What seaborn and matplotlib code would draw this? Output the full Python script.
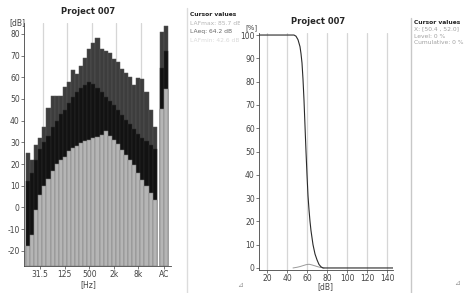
import numpy as np
import matplotlib
matplotlib.use("Agg")
import matplotlib.pyplot as plt
import seaborn as sns
from matplotlib.lines import Line2D

# ------------------------------
# data
# ------------------------------
bands = ["16", "20", "25", "31.5", "40", "50", "63", "80", "100", "125", "160",
         "200", "250", "315", "400", "500", "630", "800", "1k", "1.25k", "1.6k",
         "2k", "2.5k", "3.15k", "4k", "5k", "6.3k", "8k", "10k", "12.5k", "16k", "20k"]
lmax = [25, 22, 29, 32, 37, 46, 51.5, 51.5, 51.5, 55.6, 58, 63.4, 61.6, 65, 69, 73,
        76, 78, 73, 72, 71, 68.5, 67, 64, 62, 60, 56.5, 59.5, 59, 53, 45, 37]
leq = [12, 16, 22, 27, 30, 33, 37, 40, 43, 45, 48, 51, 53, 55, 56.5, 58,
       57, 55, 53, 51, 49, 47, 45, 42.5, 40.5, 38.5, 36, 34, 32, 30.5, 29, 27]
lmin = [-18, -12.6, -1, 5.6, 10, 13, 16.6, 20, 21.7, 23.2, 25.8, 27.5, 28.5, 29.8, 30.4, 31,
        32, 32.6, 33.5, 35, 33, 31, 29.3, 26.6, 24.3, 22, 19.7, 16, 12.8, 9.7, 6.7, 3.5]
ac_labels = ["A", "C"]
ac_max = [80.8, 83.5]
ac_eq = [64.2, 72]
ac_min = [45.5, 54.7]
tick_bands = ["31.5", "125", "500", "2k", "8k"]

cum_db = [12, 47, 49, 51, 53, 54, 55, 56, 57, 58, 59, 60, 61, 62, 63, 64, 66, 68, 70, 72, 74, 76, 146]
cum_pct = [100, 100, 99.5, 98, 95, 92, 88, 81, 72, 61, 50, 40, 31, 25, 20, 16, 10, 6, 3.5, 1.5, 0.5, 0, 0]
dist_db = [46, 50, 53, 56, 59, 62, 65, 68, 71, 74, 77]
dist_pct = [0, 0.3, 0.6, 1.0, 1.4, 1.6, 1.3, 0.9, 0.5, 0.2, 0]

W, H = 465, 293
FLOOR = -27


def px(x, y):
    return x / W, 1 - y / H


def main():
    sns.set_style("ticks")
    plt.rcParams["font.family"] = ["DejaVu Sans"]
    plt.rcParams["axes.unicode_minus"] = False
    plt.rcParams["axes.edgecolor"] = "#444444"
    plt.rcParams["xtick.color"] = "#444444"
    plt.rcParams["ytick.color"] = "#444444"

    fig = plt.figure(figsize=(W / 100, H / 100), dpi=100)
    fig.patch.set_facecolor("white")

    # ------------------------------
    # left: spectrum bars
    # ------------------------------
    ax1 = fig.add_axes([24 / W, (H - 266) / H, (171 - 24) / W, (266 - 23) / H])
    xb = np.arange(len(bands))
    xac = np.array([32.75, 33.73])
    layers = [(lmax, ac_max, "#3d3d3d", "#575757"),
              (leq, ac_eq, "#121212", "#2c2c2c"),
              (lmin, ac_min, "#b5b5b5", "#7a7a7a")]
    for vals, acv, col, edge in layers:
        ax1.bar(xb, np.array(vals) - FLOOR, bottom=FLOOR, width=1.0,
                color=col, edgecolor=edge, linewidth=0.35, zorder=2)
        ax1.bar(xac, np.array(acv) - FLOOR, bottom=FLOOR, width=0.98,
                color=col, edgecolor=edge, linewidth=0.35, zorder=2)
    ax1.set_xlim(-1, 35)
    ax1.set_ylim(FLOOR, 85)
    tpos = [bands.index(b) for b in tick_bands]
    ax1.set_xticks(tpos + [xac.mean()])
    ax1.set_xticklabels(tick_bands + ["".join(ac_labels)])
    ax1.set_xticks([p + 0.65 for p in tpos], minor=True)
    ax1.grid(which="minor", axis="x", color="#d6d6d6", linewidth=0.9, zorder=0)
    ax1.tick_params(which="minor", length=0)
    ax1.set_yticks(range(-20, 81, 10))
    ax1.tick_params(axis="both", labelsize=5.5, length=2, width=0.5, pad=1)
    sns.despine(ax=ax1)
    for s in ["left", "bottom"]:
        ax1.spines[s].set_linewidth(0.6)

    fig.text(*px(88, 12), "Project 007", ha="center", va="center", fontsize=6, weight="bold")
    fig.text(*px(17, 23), "[dB]", ha="center", va="center", fontsize=5.5, color="#444444")
    fig.text(*px(88, 285), "[Hz]", ha="center", va="center", fontsize=5.5, color="#444444")

    # ------------------------------
    # right: level distribution
    # ------------------------------
    ax2 = fig.add_axes([259 / W, (H - 270.3) / H, (393 - 259) / W, (270.3 - 32.7) / H])
    sns.lineplot(x=dist_db, y=dist_pct, ax=ax2, color="#9a9a9a", linewidth=0.7)
    sns.lineplot(x=cum_db, y=cum_pct, ax=ax2, color="#2a2a2a", linewidth=0.8)
    ax2.set_xlim(12, 146)
    ax2.set_ylim(-1, 101)
    ax2.set_xticks(range(20, 141, 20))
    ax2.set_yticks(range(0, 101, 10))
    ax2.grid(axis="x", color="#d6d6d6", linewidth=0.9, zorder=0)
    ax2.tick_params(axis="both", labelsize=5.5, length=2, width=0.5, pad=1)
    sns.despine(ax=ax2)
    for s in ["left", "bottom"]:
        ax2.spines[s].set_linewidth(0.6)

    fig.text(*px(318, 21), "Project 007", ha="center", va="center", fontsize=6, weight="bold")
    fig.text(*px(251, 27.5), "[%]", ha="center", va="center", fontsize=5, color="#444444")
    fig.text(*px(325, 287), "[dB]", ha="center", va="center", fontsize=5.5, color="#444444")

    # ------------------------------
    # cursor panels
    # ------------------------------
    pan1 = fig.add_axes([188 / W, 0, (240 - 188) / W, 1])
    pan1.set_axis_off()
    pan1.set_xlim(188, 240)
    pan1.set_ylim(H, 0)
    rows1 = [("Cursor values", 14, "#222222", "bold"),
             ("LAFmax: 85.7 dB", 23.5, "#b4b4b4", "normal"),
             ("LAeq: 64.2 dB", 31.5, "#666666", "normal"),
             ("LAFmin: 42.6 dB", 40, "#dadada", "normal")]
    for txt, y, col, wt in rows1:
        pan1.text(190, y, txt, ha="left", va="center", fontsize=4.3, color=col,
                  weight=wt, clip_on=True)
    pan1.text(240, 285, "\u22bf", ha="center", va="center", fontsize=5,
              color="#999999", clip_on=False)

    pan2 = fig.add_axes([412 / W, 0, (465 - 412) / W, 1])
    pan2.set_axis_off()
    pan2.set_xlim(412, 465)
    pan2.set_ylim(H, 0)
    rows2 = [("Cursor values", 22, "#222222", "bold"),
             ("X: [50.4 , 52.0]", 29, "#a0a0a0", "normal"),
             ("Level: 0 %", 36, "#a0a0a0", "normal"),
             ("Cumulative: 0 %", 43, "#a0a0a0", "normal")]
    for txt, y, col, wt in rows2:
        pan2.text(414, y, txt, ha="left", va="center", fontsize=4.3, color=col,
                  weight=wt, clip_on=True)
    pan2.text(457, 283, "\u22bf", ha="center", va="center", fontsize=5,
              color="#999999", clip_on=True)

    # separators between panels
    fig.add_artist(Line2D([187 / W] * 2, [1 - 8 / H, 0], color="#dcdcdc", linewidth=1))
    fig.add_artist(Line2D([411 / W] * 2, [1 - 18 / H, 0], color="#c8c8c8", linewidth=1))

    fig.savefig("out.png", dpi=100, facecolor="white")
    plt.close(fig)


if __name__ == "__main__":
    main()
